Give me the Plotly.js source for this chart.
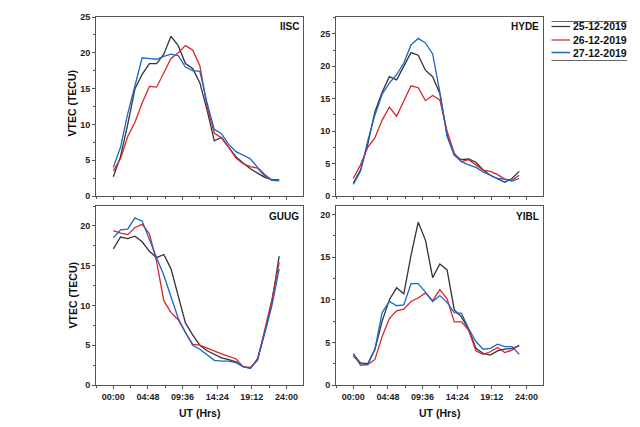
<!DOCTYPE html>
<html>
<head>
<meta charset="utf-8">
<script src="https://cdn.plot.ly/plotly-3.0.1.min.js"></script>
<style>
  html, body { margin: 0; padding: 0; background: #fff; }
  #chart { width: 640px; height: 427px; }
</style>
</head>
<body>
<div id="chart"></div>
<script>
// UT hour of each sample (hourly, 00 to 23)
const hours = [0, 1, 2, 3, 4, 5, 6, 7, 8, 9, 10, 11, 12, 13, 14, 15, 16, 17, 18, 19, 20, 21, 22, 23];

const tickHours = [0, 4.8, 9.6, 14.4, 19.2, 24];
const tickLabels = ['00:00', '04:48', '09:36', '14:24', '19:12', '24:00'];

const dates = ['25-12-2019', '26-12-2019', '27-12-2019'];
const dateColors = ['#333333', '#d9262b', '#1c66c4'];

const stations = ['IISC', 'HYDE', 'GUUG', 'YIBL'];

// VTEC (TECU) per station, per day
const iisc25 = [2.7, 5.5, 10.0, 15.0, 17.0, 18.5, 18.5, 19.8, 22.3, 21.0, 18.5, 17.8, 15.8, 12.0, 7.7, 8.2, 6.8, 5.5, 4.6, 3.8, 3.2, 2.6, 2.3, 2.3];
const iisc26 = [3.5, 5.2, 8.3, 10.3, 13.0, 15.3, 15.2, 17.3, 19.2, 20.0, 21.0, 20.4, 18.2, 12.5, 8.8, 8.1, 6.8, 5.3, 4.5, 4.1, 3.9, 2.8, 2.2, 2.3];
const iisc27 = [4.0, 6.8, 11.5, 15.5, 19.3, 19.2, 19.1, 19.5, 19.8, 19.6, 18.0, 17.5, 17.4, 13.0, 9.3, 8.7, 7.2, 6.2, 5.7, 5.2, 4.0, 3.0, 2.2, 2.1];

const hyde25 = [2.0, 4.0, 8.0, 13.0, 16.0, 18.4, 17.9, 20.0, 22.1, 21.7, 19.4, 18.4, 15.8, 9.4, 6.3, 5.6, 5.7, 5.2, 4.0, 3.2, 2.6, 2.1, 2.7, 3.8];
const hyde26 = [2.7, 4.8, 7.5, 9.0, 11.7, 13.7, 12.3, 14.6, 17.0, 16.7, 14.7, 15.5, 14.8, 10.0, 6.6, 5.3, 5.6, 4.8, 4.0, 3.8, 3.3, 2.6, 2.4, 3.2];
const hyde27 = [1.8, 3.8, 8.5, 12.5, 15.7, 17.4, 18.7, 20.5, 23.3, 24.3, 23.6, 21.9, 16.0, 9.2, 6.3, 5.3, 4.8, 4.4, 3.7, 3.2, 2.7, 2.6, 2.3, 2.7];

const guug25 = [17.1, 18.6, 18.4, 18.7, 18.0, 16.8, 16.0, 16.4, 14.6, 11.2, 7.8, 6.3, 5.0, 4.3, 3.8, 3.4, 3.2, 2.9, 2.3, 2.1, 3.3, 6.7, 10.5, 16.2];
const guug26 = [19.4, 19.1, 18.9, 19.8, 20.2, 19.0, 15.5, 10.6, 9.1, 8.2, 6.6, 5.1, 5.0, 4.6, 4.2, 3.9, 3.6, 3.3, 2.3, 2.2, 3.1, 6.8, 10.8, 15.4];
const guug27 = [18.5, 19.5, 19.6, 21.0, 20.6, 18.2, 16.0, 13.8, 11.1, 8.4, 6.6, 5.0, 4.5, 3.8, 3.1, 3.0, 3.0, 2.8, 2.3, 2.1, 3.2, 6.5, 10.0, 14.6];

const yibl25 = [3.6, 2.6, 2.5, 4.2, 7.5, 10.0, 11.4, 10.7, 15.2, 19.1, 17.0, 12.6, 14.2, 13.5, 8.8, 8.0, 6.5, 4.3, 3.7, 3.5, 4.0, 4.2, 4.3, 4.6];
const yibl26 = [3.4, 2.5, 2.4, 3.0, 5.7, 7.8, 8.7, 8.9, 9.8, 10.2, 10.8, 9.9, 11.2, 10.1, 7.4, 7.4, 6.4, 4.0, 3.6, 3.9, 4.4, 3.8, 4.1, 4.7];
const yibl27 = [3.7, 2.3, 2.4, 4.2, 8.5, 9.8, 9.3, 9.4, 11.9, 11.9, 10.9, 9.8, 10.5, 9.7, 8.5, 8.4, 6.6, 5.1, 4.2, 4.3, 4.8, 4.5, 4.5, 3.6];

const stationSeries = [
    [iisc25, iisc26, iisc27],
    [hyde25, hyde26, hyde27],
    [guug25, guug26, guug27],
    [yibl25, yibl26, yibl27]
];

const yMax = [25, 27.6, 22.5, 21];

// pixel -> paper helpers (page is 640x427)
const W = 640, H = 427;
const px = v => v / W;
const py = v => 1 - v / H;

const FONT = 'Liberation Sans, Arial, Helvetica, sans-serif';
const AXIS_COLOR = '#555';

// panel boxes in pixels: [left, right, top, bottom]
const boxes = [
    [96, 303, 17, 196],
    [336, 543, 17, 196],
    [96, 303, 206, 385],
    [336, 543, 206, 385]
];

const traces = [];
stationSeries.forEach((series, i) => {
    const n = i === 0 ? '' : String(i + 1);
    series.forEach((vals, j) => {
        traces.push({
            x: hours,
            y: vals,
            xaxis: 'x' + n,
            yaxis: 'y' + n,
            type: 'scatter',
            mode: 'lines',
            name: dates[j],
            showlegend: false,
            line: { color: dateColors[j], width: 1.3 },
            hoverinfo: 'skip'
        });
    });
});

const layout = {
    width: W,
    height: H,
    margin: { t: 0, b: 0, l: 0, r: 0 },
    paper_bgcolor: '#fff',
    plot_bgcolor: '#fff',
    showlegend: false,
    font: { family: FONT, color: '#222' },
    annotations: [],
    shapes: []
};

boxes.forEach((b, i) => {
    const n = i === 0 ? '' : String(i + 1);
    const bottomRow = i >= 2;
    layout['xaxis' + n] = {
        domain: [px(b[0]), px(b[1])],
        anchor: 'y' + n,
        range: [-2.4, 26.3],
        tickmode: 'array',
        tickvals: tickHours,
        ticktext: tickLabels,
        showticklabels: bottomRow,
        ticks: 'outside',
        ticklen: 3,
        tickwidth: 1,
        tickcolor: AXIS_COLOR,
        minor: { tickmode: 'linear', tick0: 0, dtick: 2.4, ticks: 'outside', ticklen: 2, tickcolor: AXIS_COLOR, showgrid: false },
        tickfont: { family: FONT, size: 9, weight: 'bold', color: '#222' },
        showline: true,
        mirror: true,
        linecolor: AXIS_COLOR,
        linewidth: 1,
        showgrid: false,
        zeroline: false,
        fixedrange: true
    };
    layout['yaxis' + n] = {
        domain: [py(b[3]), py(b[2])],
        anchor: 'x' + n,
        range: [0, yMax[i]],
        tickmode: 'linear',
        tick0: 0,
        dtick: 5,
        ticks: 'outside',
        ticklen: 3,
        tickwidth: 1,
        tickcolor: AXIS_COLOR,
        minor: { tickmode: 'linear', tick0: 0, dtick: 2.5, ticks: 'outside', ticklen: 2, tickcolor: AXIS_COLOR, showgrid: false },
        tickfont: { family: FONT, size: 9, weight: 'bold', color: '#222' },
        showline: true,
        mirror: true,
        linecolor: AXIS_COLOR,
        linewidth: 1,
        showgrid: false,
        zeroline: false,
        fixedrange: true
    };

    // station name, top right inside the frame
    layout.annotations.push({
        xref: 'paper', yref: 'paper',
        x: px(b[1] - 2), y: py(b[2] + 10),
        xanchor: 'right', yanchor: 'middle',
        text: stations[i],
        showarrow: false,
        font: { family: FONT, size: 10, weight: 'bold', color: '#111' }
    });

    if (i % 2 === 0) {
        layout.annotations.push({
            xref: 'paper', yref: 'paper',
            x: px(72), y: py((b[2] + b[3]) / 2 - (bottomRow ? 0 : 3)),
            xanchor: 'center', yanchor: 'middle',
            text: 'VTEC (TECU)',
            textangle: -90,
            showarrow: false,
            font: { family: FONT, size: 10.5, weight: 'bold', color: '#111' }
        });
    }
    if (bottomRow) {
        layout.annotations.push({
            xref: 'paper', yref: 'paper',
            x: px((b[0] + b[1]) / 2), y: py(413),
            xanchor: 'center', yanchor: 'middle',
            text: 'UT (Hrs)',
            showarrow: false,
            font: { family: FONT, size: 10.5, weight: 'bold', color: '#111' }
        });
    }
});

// legend drawn by hand: rule above and below, one short line sample per day
const legLeft = 551.5, legSample = 570, legRight = 627;
const legRows = [26.5, 40, 52.5];
[21.5, 60.5].forEach(yy => {
    layout.shapes.push({
        type: 'line', xref: 'paper', yref: 'paper',
        x0: px(legLeft), x1: px(legRight), y0: py(yy), y1: py(yy),
        line: { color: '#666', width: 1 }
    });
});
dates.forEach((d, j) => {
    layout.shapes.push({
        type: 'line', xref: 'paper', yref: 'paper',
        x0: px(legLeft), x1: px(legSample), y0: py(legRows[j]), y1: py(legRows[j]),
        line: { color: dateColors[j], width: j === 2 ? 1.5 : 1.2 }
    });
    layout.annotations.push({
        xref: 'paper', yref: 'paper',
        x: px(legSample + 0.5), y: py(legRows[j]),
        xanchor: 'left', yanchor: 'middle',
        text: d,
        showarrow: false,
        font: { family: FONT, size: 10.5, weight: 'bold', color: '#111' }
    });
});

Plotly.newPlot('chart', traces, layout, { displayModeBar: false, staticPlot: true });
</script>
</body>
</html>
